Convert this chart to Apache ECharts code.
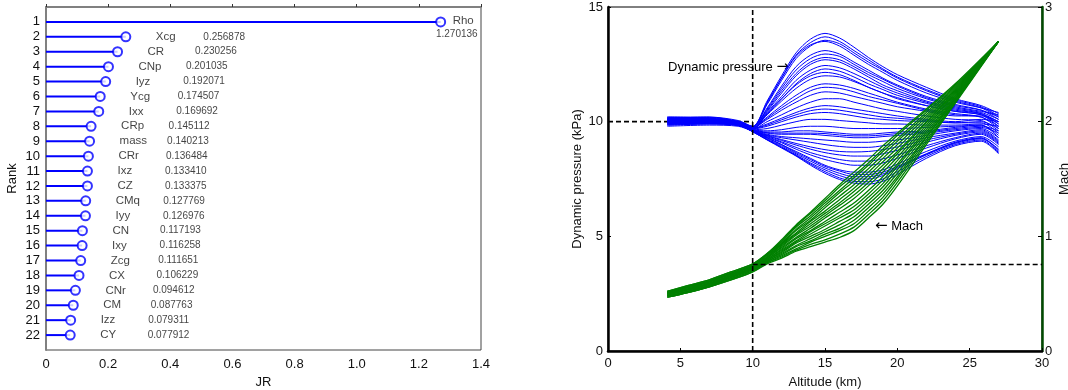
<!DOCTYPE html>
<html><head><meta charset="utf-8">
<script src="https://cdn.jsdelivr.net/npm/echarts@6/dist/echarts.min.js"></script>
<style>html,body{margin:0;padding:0;background:#fff}#c{width:1068px;height:390px}</style>
</head><body><div id="c"></div>
<script>
// ---------- Left chart data ----------
const ranks = [1,2,3,4,5,6,7,8,9,10,11,12,13,14,15,16,17,18,19,20,21,22];
const params = ['Rho','Xcg','CR','CNp','Iyz','Ycg','Ixx','CRp','mass','CRr','Ixz','CZ','CMq','Iyy','CN','Ixy','Zcg','CX','CNr','CM','Izz','CY'];
const jrValues = [1.270136,0.256878,0.230256,0.201035,0.192071,0.174507,0.169692,0.145112,0.140213,0.136484,0.133410,0.133375,0.127769,0.126976,0.117193,0.116258,0.111651,0.106229,0.094612,0.087763,0.079311,0.077912];
const jrTicks = [0,0.2,0.4,0.6,0.8,1,1.2,1.4];

// ---------- Right chart data ----------
const altTicks = [0,5,10,15,20,25,30];
const qTicks = [0,5,10,15];
const machTicks = [0,1,2,3];
const altBlue = [4.1,7,9,10,11,12,13,14,15,16,17,18,19,20,22,24,25.8,27];
const q01 = [10.15,10.2,10.05,9.8,10.9,12.0,13.0,13.6,13.85,13.65,13.25,12.8,12.4,12.05,11.5,11.0,10.7,10.35];
const q02 = [10.1,10.15,10.0,9.78,10.75,11.8,12.75,13.3,13.55,13.4,13.0,12.6,12.25,11.9,11.35,10.9,10.6,10.2];
const q03 = [10.05,10.1,9.95,9.75,10.6,11.55,12.4,12.9,13.1,12.95,12.6,12.25,11.9,11.6,11.1,10.75,10.5,10.1];
const q04 = [10.2,10.15,10.0,9.78,10.5,11.35,12.1,12.6,12.8,12.7,12.4,12.05,11.75,11.45,11.0,10.65,10.45,10.3];
const q05 = [10.0,10.05,9.9,9.72,10.4,11.1,11.8,12.25,12.45,12.35,12.1,11.8,11.5,11.25,10.85,10.55,10.35,9.9];
const q06 = [10.1,10.1,9.95,9.7,10.3,10.9,11.45,11.85,12.0,11.95,11.75,11.5,11.25,11.05,10.7,10.45,10.3,10.0];
const q07 = [9.95,10.0,9.9,9.7,10.2,10.7,11.15,11.5,11.65,11.6,11.45,11.25,11.05,10.85,10.55,10.35,10.2,9.7];
const q08 = [10.15,10.1,9.95,9.75,10.1,10.5,10.85,11.15,11.3,11.25,11.1,10.95,10.8,10.65,10.45,10.25,10.25,9.9];
const q09 = [9.9,9.95,9.85,9.68,10.0,10.3,10.6,10.85,11.0,11.0,10.85,10.7,10.55,10.45,10.25,10.1,10.05,9.6];
const q10 = [10.05,10.05,9.9,9.7,9.9,10.15,10.4,10.6,10.7,10.65,10.55,10.45,10.35,10.25,10.1,10.0,10.1,10.0];
const q11 = [10.1,10.05,9.9,9.68,9.8,10.0,10.2,10.35,10.4,10.35,10.25,10.15,10.1,10.05,10.0,9.95,9.95,9.5];
const q12 = [9.85,9.9,9.85,9.65,9.7,9.85,10.0,10.1,10.1,10.05,10.0,9.95,9.9,9.9,9.85,9.85,9.9,9.8];
const q13 = [10.0,10.0,9.88,9.65,9.6,9.65,9.75,9.8,9.8,9.75,9.7,9.7,9.7,9.7,9.75,9.8,9.85,9.3];
const q14 = [10.15,10.1,9.9,9.62,9.5,9.45,9.45,9.45,9.4,9.35,9.3,9.3,9.35,9.4,9.5,9.65,9.75,9.5];
const q15 = [9.9,9.95,9.85,9.6,9.42,9.3,9.2,9.1,9.0,8.92,8.88,8.88,8.95,9.05,9.3,9.5,9.65,9.2];
const q16 = [10.05,10.05,9.9,9.6,9.38,9.18,8.98,8.8,8.65,8.55,8.5,8.5,8.6,8.75,9.1,9.4,9.55,9.1];
const q17 = [9.8,9.85,9.8,9.58,9.32,9.08,8.8,8.55,8.35,8.2,8.1,8.1,8.2,8.4,8.85,9.25,9.45,9.0];
const q18 = [10.1,10.05,9.9,9.58,9.28,9.0,8.7,8.4,8.1,7.9,7.8,7.8,7.9,8.15,8.7,9.15,9.35,8.9];
const q19 = [9.95,9.95,9.85,9.57,9.22,8.9,8.55,8.2,7.9,7.65,7.5,7.5,7.65,7.95,8.55,9.05,9.25,8.8];
const q20 = [10.0,10.0,9.85,9.56,9.2,8.85,8.5,8.1,7.75,7.48,7.32,7.28,7.4,7.7,8.4,8.95,9.15,8.6];
const q21 = [10.2,10.2,10.0,9.78,10.8,11.9,12.85,13.35,13.5,13.3,12.9,12.5,12.15,11.8,11.25,10.85,10.6,10.4];
const q22 = [9.85,9.9,9.85,9.7,10.35,11.0,11.6,12.0,12.15,12.05,11.8,11.5,11.25,11.0,10.7,10.45,10.3,9.8];
const q23 = [9.9,9.95,9.85,9.6,9.3,9.0,8.65,8.35,8.05,7.85,7.7,7.7,7.8,8.05,8.6,9.1,9.3,8.75];
const q24 = [10.1,10.1,9.95,9.65,9.55,9.55,9.6,9.6,9.55,9.5,9.45,9.45,9.5,9.55,9.6,9.75,9.85,9.4];
const q25 = [10.0,10.05,9.9,9.7,10.45,11.25,12.0,12.5,12.7,12.6,12.3,11.95,11.6,11.35,10.9,10.6,10.4,10.1];
const q26 = [9.95,9.95,9.85,9.62,9.45,9.35,9.3,9.25,9.2,9.15,9.1,9.1,9.15,9.2,9.4,9.6,9.7,9.3];
const q27 = [10.12,10.18,10.02,9.79,10.85,11.9,12.9,13.45,13.7,13.5,13.1,12.7,12.3,11.95,11.4,10.95,10.65,10.25];
const q28 = [10.08,10.12,9.97,9.76,10.55,11.45,12.25,12.75,12.95,12.85,12.5,12.15,11.85,11.55,11.05,10.7,10.5,10.2];
const q29 = [9.98,10.02,9.9,9.72,10.35,11.0,11.65,12.1,12.3,12.2,11.95,11.65,11.4,11.15,10.8,10.5,10.35,10.0];
const q30 = [10.12,10.08,9.93,9.72,10.15,10.6,11.0,11.35,11.5,11.45,11.3,11.1,10.95,10.8,10.5,10.3,10.2,9.8];
const q31 = [10.0,10.02,9.88,9.7,9.85,10.08,10.3,10.48,10.55,10.5,10.4,10.3,10.2,10.15,10.05,9.95,10.0,9.7];
const q32 = [10.18,10.12,9.92,9.63,9.52,9.5,9.5,9.5,9.48,9.42,9.38,9.38,9.42,9.48,9.55,9.7,9.8,9.6];
const q33 = [9.88,9.92,9.83,9.6,9.4,9.22,9.05,8.9,8.78,8.7,8.68,8.7,8.78,8.9,9.2,9.45,9.6,9.15];
const q34 = [10.02,10.02,9.88,9.59,9.35,9.12,8.88,8.65,8.48,8.35,8.28,8.28,8.38,8.55,8.95,9.3,9.5,9.05];
const q35 = [9.92,9.97,9.84,9.57,9.24,8.95,8.6,8.28,7.98,7.75,7.6,7.6,7.72,8.0,8.58,9.08,9.28,8.7];
const q36 = [10.08,10.06,9.88,9.56,9.21,8.88,8.52,8.15,7.82,7.55,7.4,7.38,7.5,7.82,8.48,9.0,9.2,8.65];
const qCurves = [q01,q02,q03,q04,q05,q06,q07,q08,q09,q10,q11,q12,q13,q14,q15,q16,q17,q18,q19,q20,q21,q22,q23,q24,q25,q26,q27,q28,q29,q30,q31,q32,q33,q34,q35,q36];

const altGreen = [4.1,5.5,7,8.5,10,11,12,13,14,15,16,17,18,19,20,22,24,27];
const m01 = [.47,.51,.56,.62,.69,.76,.81,.87,.91,.95,.99,1.05,1.16,1.28,1.44,1.80,2.16,2.70];
const m02 = [.47,.51,.56,.62,.69,.77,.82,.88,.93,.97,1.02,1.08,1.19,1.31,1.47,1.82,2.17,2.70];
const m03 = [.47,.51,.56,.63,.70,.77,.83,.89,.95,1.00,1.05,1.11,1.22,1.34,1.50,1.84,2.18,2.70];
const m04 = [.48,.52,.57,.63,.70,.78,.84,.91,.96,1.02,1.07,1.14,1.25,1.37,1.52,1.86,2.19,2.70];
const m05 = [.48,.52,.57,.64,.71,.78,.85,.92,.98,1.04,1.10,1.17,1.28,1.40,1.55,1.87,2.20,2.70];
const m06 = [.48,.52,.57,.64,.71,.79,.86,.94,1.00,1.06,1.13,1.20,1.31,1.43,1.58,1.89,2.21,2.70];
const m07 = [.49,.53,.58,.65,.72,.79,.87,.95,1.02,1.09,1.16,1.23,1.34,1.46,1.61,1.91,2.22,2.70];
const m08 = [.49,.53,.58,.65,.72,.80,.88,.96,1.04,1.11,1.18,1.26,1.37,1.49,1.63,1.93,2.23,2.70];
const m09 = [.49,.54,.59,.65,.72,.80,.89,.98,1.05,1.13,1.21,1.29,1.40,1.52,1.66,1.95,2.24,2.70];
const m10 = [.50,.54,.59,.66,.73,.81,.90,.99,1.07,1.16,1.24,1.33,1.44,1.56,1.69,1.97,2.25,2.70];
const m11 = [.50,.54,.59,.66,.73,.81,.91,1.01,1.09,1.18,1.27,1.36,1.47,1.59,1.72,1.99,2.26,2.70];
const m12 = [.50,.55,.60,.67,.74,.82,.92,1.02,1.11,1.20,1.29,1.39,1.50,1.62,1.74,2.00,2.27,2.70];
const m13 = [.51,.55,.60,.67,.74,.82,.93,1.03,1.13,1.22,1.32,1.42,1.53,1.65,1.77,2.02,2.28,2.70];
const m14 = [.51,.56,.61,.67,.74,.83,.93,1.05,1.14,1.25,1.35,1.45,1.56,1.68,1.80,2.04,2.29,2.70];
const m15 = [.51,.56,.61,.68,.75,.84,.94,1.06,1.16,1.27,1.38,1.48,1.59,1.71,1.83,2.06,2.30,2.70];
const m16 = [.52,.56,.61,.68,.75,.84,.95,1.08,1.18,1.29,1.40,1.51,1.62,1.74,1.85,2.08,2.31,2.70];
const m17 = [.52,.57,.62,.69,.76,.85,.96,1.09,1.20,1.31,1.43,1.53,1.64,1.76,1.88,2.10,2.32,2.70];
const m18 = [.52,.57,.62,.69,.76,.85,.97,1.10,1.21,1.33,1.45,1.56,1.67,1.79,1.90,2.11,2.33,2.70];
const machCurves = [m01,m02,m03,m04,m05,m06,m07,m08,m09,m10,m11,m12,m13,m14,m15,m16,m17,m18];

const qRefLine = [[0,10],[10,10]];
const altRefLine = [[10,0],[10,15]];
const machRefLine = [[10,0.755],[30,0.755]];

const FONT = "'Liberation Sans', Arial, Helvetica, sans-serif";
const chart = echarts.init(document.getElementById('c'), null, {renderer:'canvas'});

const series = [];
series.push({
  type:'custom', xAxisIndex:0, yAxisIndex:0, silent:true,
  data: ranks.map((r,i)=>[jrValues[i], r]),
  renderItem: (p, api) => {
    const a = api.coord([0, api.value(1)]);
    const b = api.coord([api.value(0), api.value(1)]);
    return {type:'line', shape:{x1:a[0],y1:a[1],x2:b[0],y2:b[1]}, style:{stroke:'#0000ff', lineWidth:2}};
  }
});
series.push({
  type:'scatter', xAxisIndex:0, yAxisIndex:0, silent:true,
  symbol:'emptyCircle', symbolSize:9,
  itemStyle:{color:'#0000ff', borderColor:'#0000ff', borderWidth:2},
  data: ranks.map((r,i)=>{
    const d = {value:[jrValues[i], r]};
    if (i === 0) d.label = {position:[17.5,4.5]};
    return d;
  }),
  label:{show:true, position:[35.5,5.5], align:'left', verticalAlign:'middle',
    formatter: p => params[p.dataIndex], fontFamily:FONT, fontSize:11.5, color:'#111'}
});
series.push({
  type:'scatter', xAxisIndex:0, yAxisIndex:0, silent:true,
  symbol:'circle', symbolSize:1, itemStyle:{color:'rgba(0,0,0,0)'},
  data: ranks.map((r,i)=>{
    const d = {value:[jrValues[i], r]};
    if (i === 0) d.label = {position:[37.5,13], align:'right'};
    return d;
  }),
  label:{show:true, position:[78,0.5], align:'left', verticalAlign:'middle',
    formatter: p => jrValues[p.dataIndex].toFixed(6), fontFamily:FONT, fontSize:10, color:'#111'}
});

const dash = {color:'#000', width:1.6, type:[5,3]};
series.push({type:'line', xAxisIndex:1, yAxisIndex:1, data:qRefLine, symbol:'none', lineStyle:dash, silent:true});
qCurves.forEach(c => series.push({
  type:'line', xAxisIndex:1, yAxisIndex:1, symbol:'none', smooth:0.3, silent:true,
  lineStyle:{color:'#0000ff', width:1}, data: altBlue.map((a,j)=>[a, c[j]])
}));
machCurves.forEach(c => series.push({
  type:'line', xAxisIndex:1, yAxisIndex:2, symbol:'none', smooth:0.3, silent:true,
  lineStyle:{color:'#008000', width:1.3}, data: altGreen.map((a,j)=>[a, c[j]])
}));
series.push({type:'line', xAxisIndex:1, yAxisIndex:1, data:altRefLine, symbol:'none', lineStyle:dash, silent:true});
series.push({type:'line', xAxisIndex:1, yAxisIndex:2, data:machRefLine, symbol:'none', lineStyle:dash, silent:true});

const lbl = {fontFamily:FONT, fontSize:13, color:'#111'};
const nameStyle = {fontFamily:FONT, fontSize:13, color:'#111'};
const annRich = {t:{fontFamily:FONT, fontSize:13, color:'#111'}, a:{fontFamily:"'DejaVu Sans', sans-serif", fontSize:15, color:'#111'}};

chart.setOption({
  animation:false,
  backgroundColor:'#fff',
  grid:[
    {left:46, right:587, top:7, bottom:40, show:true, borderColor:'#444', borderWidth:1, backgroundColor:'transparent', containLabel:false, outerBoundsMode:'none'},
    {left:608, right:26, top:7, bottom:39, show:true, borderColor:'#000', borderWidth:1, backgroundColor:'transparent', containLabel:false, outerBoundsMode:'none'}
  ],
  xAxis:[
    {gridIndex:0, type:'value', min:jrTicks[0], max:jrTicks[jrTicks.length-1], interval:0.2,
     axisLine:{lineStyle:{color:'#808080', width:2}}, axisTick:{inside:true, length:3, lineStyle:{color:'#333'}},
     splitLine:{show:false}, axisLabel:{...lbl, margin:8, formatter: v => v===0 ? '0' : (+v).toFixed(1)},
     name:'JR', nameLocation:'middle', nameGap:25, nameTextStyle:nameStyle},
    {gridIndex:1, type:'value', min:altTicks[0], max:altTicks[altTicks.length-1], interval:5,
     axisLine:{lineStyle:{color:'#000', width:2.5}}, axisTick:{inside:true, length:3, lineStyle:{color:'#000'}},
     splitLine:{show:false}, axisLabel:{...lbl, margin:6},
     name:'Altitude (km)', nameLocation:'middle', nameGap:25, nameTextStyle:nameStyle}
  ],
  yAxis:[
    {gridIndex:0, type:'value', min:0, max:23, interval:1, inverse:true,
     axisLine:{lineStyle:{color:'#808080', width:2}}, axisTick:{show:false},
     splitLine:{show:false}, axisLabel:{...lbl, margin:6, formatter: v => ranks.indexOf(v) >= 0 ? String(v) : ''},
     name:'Rank', nameLocation:'middle', nameGap:27, nameTextStyle:nameStyle},
    {gridIndex:1, type:'value', min:qTicks[0], max:qTicks[qTicks.length-1], interval:5, position:'left',
     axisLine:{lineStyle:{color:'#000', width:2.5}}, axisTick:{inside:true, length:3, lineStyle:{color:'#000'}},
     splitLine:{show:false}, axisLabel:{...lbl, margin:5},
     name:'Dynamic pressure (kPa)', nameLocation:'middle', nameGap:24, nameTextStyle:nameStyle},
    {gridIndex:1, type:'value', min:machTicks[0], max:machTicks[machTicks.length-1], interval:1, position:'right',
     axisLine:{lineStyle:{color:'#004a00', width:2.5}}, axisTick:{inside:true, length:4, lineStyle:{color:'#000'}},
     splitLine:{show:false}, axisLabel:{...lbl, margin:3},
     name:'Mach', nameLocation:'middle', nameGap:16, nameTextStyle:nameStyle}
  ],
  graphic:[
    {type:'text', x:789, y:67, silent:true, style:{text:'{t|Dynamic pressure }{a|\u2192}', rich:annRich, align:'right', verticalAlign:'middle', textAlign:'right', textVerticalAlign:'middle'}},
    {type:'text', x:875, y:226, silent:true, style:{text:'{a|\u2190}{t| Mach}', rich:annRich, align:'left', verticalAlign:'middle', textAlign:'left', textVerticalAlign:'middle'}}
  ],
  series: series
});
</script></body></html>
